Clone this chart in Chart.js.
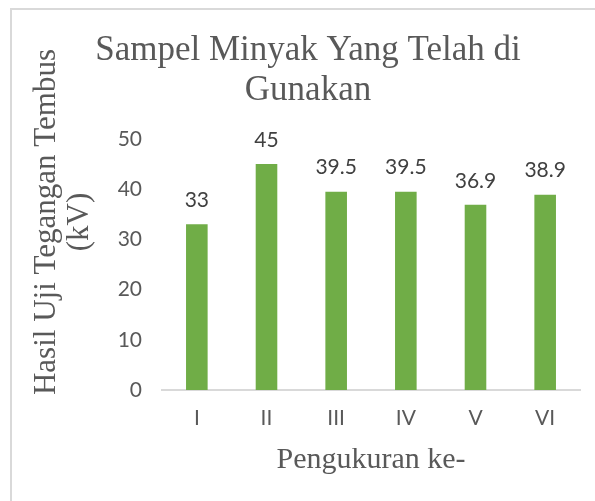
<!DOCTYPE html>
<html>
<head>
<meta charset="utf-8">
<title>Sampel Minyak Yang Telah di Gunakan</title>
<script src="https://cdn.jsdelivr.net/npm/chart.js@4/dist/chart.umd.min.js"></script>
<style>
  html, body { margin: 0; padding: 0; background: #fff; overflow: hidden; }
  /* light grey frame, its right/bottom sides fall outside the picture */
  #frame { position: absolute; left: 10px; top: 8px; width: 700px; height: 600px;
           border-left: 2px solid #d9d9d9; border-top: 2px solid #d9d9d9; }
  #wrap { position: absolute; left: 0; top: 0; width: 595px; height: 501px; }
</style>
</head>
<body>
<div id="frame"></div>
<div id="wrap"><canvas id="chart"></canvas></div>
<script>
// ------------------------------
// Data
// ------------------------------
const categories = ["I", "II", "III", "IV", "V", "VI"];
const values = [33, 45, 39.5, 39.5, 36.9, 38.9];
const yTicks = [0, 10, 20, 30, 40, 50];
const chartTitle = ["Sampel Minyak Yang Telah di", "Gunakan"];
const yTitle = ["Hasil Uji Tegangan Tembus", "(kV)"];
const xTitle = "Pengukuran ke-";

const SERIF = "'Liberation Serif', 'Times New Roman', serif";
const SANS = "Lato, 'Open Sans', sans-serif";
const GREY = "#595959";

// value labels above each bar
const barLabels = {
  id: "barLabels",
  afterDatasetsDraw(chart) {
    const ctx = chart.ctx;
    const meta = chart.getDatasetMeta(0);
    ctx.save();
    ctx.font = "21px " + SANS;
    ctx.fillStyle = "#404040";
    ctx.textAlign = "center";
    ctx.textBaseline = "middle";
    meta.data.forEach((bar, i) => {
      ctx.fillText(String(values[i]), bar.x, bar.y - 24);
    });
    ctx.restore();
  }
};

// two-line rotated y axis title (centred a bit above the plot centre, as in the original)
const yAxisTitle = {
  id: "yAxisTitle",
  afterDraw(chart) {
    const ctx = chart.ctx;
    ctx.save();
    ctx.font = "31px " + SERIF;
    ctx.fillStyle = GREY;
    ctx.textAlign = "center";
    ctx.textBaseline = "middle";
    ctx.translate(47, 222);
    ctx.rotate(-Math.PI / 2);
    yTitle.forEach((line, i) => ctx.fillText(line, 0, i * 33));
    ctx.restore();
  }
};

new Chart(document.getElementById("chart"), {
  type: "bar",
  data: {
    labels: categories,
    datasets: [{
      data: values,
      backgroundColor: "#70ad47",
      categoryPercentage: 1,
      barPercentage: 0.31
    }]
  },
  options: {
    responsive: true,
    maintainAspectRatio: false,
    animation: false,
    layout: { padding: { left: 36, right: 15, top: 0, bottom: 0 } },
    plugins: {
      legend: { display: false },
      tooltip: { enabled: false },
      title: {
        display: true,
        text: chartTitle,
        color: GREY,
        font: { family: SERIF, size: 35, weight: "normal", lineHeight: 40 / 35 },
        padding: { top: 31, bottom: 28 }
      }
    },
    scales: {
      x: {
        grid: { display: false, drawTicks: false },
        border: { display: true, color: "#d9d9d9", width: 2 },
        ticks: { color: GREY, font: { family: SANS, size: 21 }, padding: 16 },
        title: {
          display: true,
          text: xTitle,
          color: GREY,
          font: { family: SERIF, size: 30 },
          padding: { top: 0, bottom: 23 }
        },
        afterFit: s => { s.height = 111; }
      },
      y: {
        min: 0,
        max: 50,
        grid: { display: false, drawTicks: false },
        border: { display: false },
        ticks: { color: GREY, font: { family: SANS, size: 21 }, padding: 20 },
        afterBuildTicks: s => { s.ticks = yTicks.map(v => ({ value: v })); },
        afterFit: s => { s.width = 126; }
      }
    }
  },
  plugins: [barLabels, yAxisTitle]
});
</script>
</body>
</html>
